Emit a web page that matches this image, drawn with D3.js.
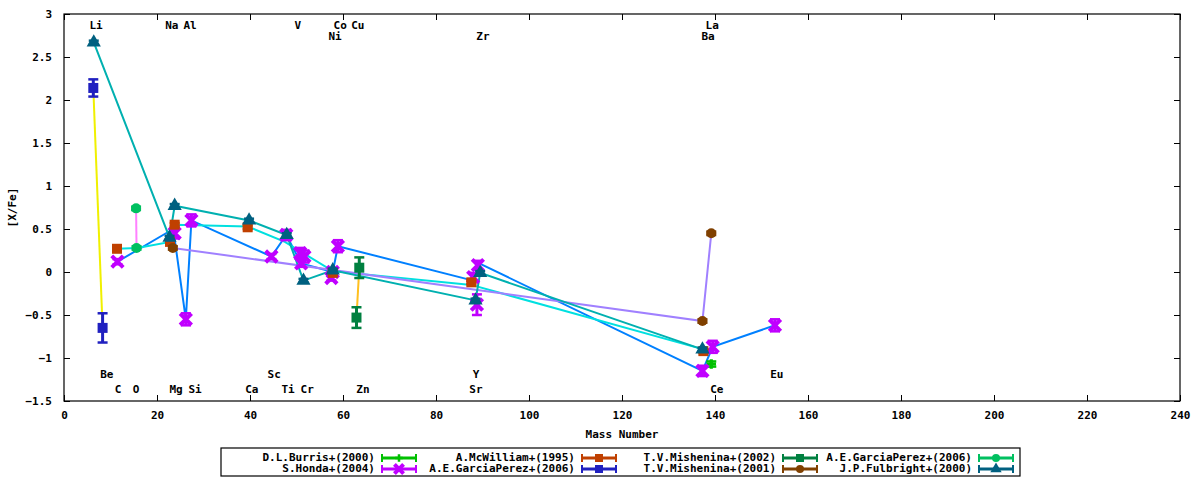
<!DOCTYPE html>
<html lang="en">
<head>
<meta charset="UTF-8">
<title>[X/Fe] vs Mass Number</title>
<script src="https://d3js.org/d3.v7.min.js"></script>
<style>
  body { margin: 0; background: #fff; }
  text { font-family: "DejaVu Sans Mono", monospace; font-weight: bold; font-size: 11px; }
</style>
</head>
<body>
<script>
// data: [mass number, [X/Fe], error]
const burris = [[139.2, -1.07, 0.03]];
const honda = [[11.5, 0.12, 0.03], [23.8, 0.45, 0.06], [26.2, -0.55, 0.07], [27.4, 0.6, 0.07],
  [44.6, 0.18, 0.03], [47.8, 0.43, 0.06], [50.8, 0.22, 0.06], [51.7, 0.18, 0.07], [51.0, 0.1, 0.04],
  [57.8, 0.0, 0.03], [57.5, -0.07, 0.03], [58.9, 0.3, 0.07], [88.0, -0.06, 0.05], [89.0, 0.08, 0.05],
  [88.8, -0.38, 0.12], [137.3, -1.15, 0.06], [139.5, -0.87, 0.07], [152.9, -0.62, 0.07]];
const honda_line = [[11.5, 0.12], [23.5, 0.5], [26.2, -0.55], [27.4, 0.6], [44.6, 0.18], [47.8, 0.43],
  [51.0, 0.1], [57.8, 0.0], [58.9, 0.3], [88.0, -0.1], [89.3, 0.1], [137.3, -1.15], [139.5, -0.87], [152.9, -0.62]];
const mcwilliam = [[11.4, 0.27, 0.02], [22.8, 0.35, 0.02], [23.8, 0.55, 0.02], [39.5, 0.52, 0.02],
  [57.8, -0.01, 0.02], [87.6, -0.12, 0.02], [137.5, -0.92, 0.02]];
const mcwilliam_line = [[11.4, 0.27], [15.8, 0.28], [22.8, 0.35], [23.8, 0.55], [39.5, 0.53],
  [47.5, 0.35], [57.8, 0.01], [87.6, -0.15], [137.5, -0.9]];
const mish2002 = [[62.9, -0.53, 0.12], [63.5, 0.05, 0.12]];
const garciaO = [[15.6, 0.28, 0.02], [15.5, 0.74, 0.02]];
const garciaLi = [[6.3, 2.14, 0.1], [8.3, -0.65, 0.17]];
const mish2001 = [[23.4, 0.28, 0.02], [137.3, -0.57, 0.02], [139.2, 0.45, 0.02]];
const fulbright = [[6.4, 2.67, 0.02], [22.7, 0.4, 0.02], [23.8, 0.77, 0.02], [39.8, 0.6, 0.02],
  [47.9, 0.43, 0.02], [51.5, -0.1, 0.02], [57.8, 0.02, 0.02], [88.5, -0.33, 0.02], [89.5, -0.01, 0.02],
  [137.3, -0.9, 0.02]];
const fulbright_line = [[6.4, 2.67], [22.7, 0.4], [23.8, 0.77], [39.8, 0.6], [47.9, 0.43], [51.5, -0.1],
  [57.8, 0.02], [88.5, -0.33], [89.5, -0.01], [137.3, -0.9]];

const labelsTop = [["Li", 6.9, 2.86], ["Na", 23.2, 2.86], ["Al", 27.1, 2.86], ["V", 50.3, 2.86],
  ["Co", 59.4, 2.86], ["Cu", 63.2, 2.86], ["Ni", 58.3, 2.73], ["Zr", 90.1, 2.73], ["La", 139.4, 2.86], ["Ba", 138.5, 2.73]];
const labelsBottom = [["Be", 9.2, -1.2], ["C", 11.6, -1.37], ["O", 15.5, -1.37], ["Mg", 24.1, -1.37],
  ["Si", 28.2, -1.37], ["Ca", 40.4, -1.37], ["Sc", 45.2, -1.2], ["Ti", 48.2, -1.37], ["Cr", 52.3, -1.37],
  ["Zn", 64.3, -1.37], ["Y", 88.6, -1.2], ["Sr", 88.6, -1.37], ["Ce", 140.4, -1.37], ["Eu", 153.3, -1.2]];

const xTicks = d3.range(0, 241, 20);
const yTicks = [-1.5, -1, -0.5, 0, 0.5, 1, 1.5, 2, 2.5, 3];

const series = [
  { name: "D.L.Burris+(2000)", color: "#00c000", shape: "plus", data: burris },
  { name: "S.Honda+(2004)", color: "#c000ff", shape: "cross", data: honda, line: honda_line, lineColor: "#0080ff" },
  { name: "A.McWilliam+(1995)", color: "#c04000", shape: "square", data: mcwilliam, line: mcwilliam_line, lineColor: "#00e0e0" },
  { name: "A.E.GarciaPerez+(2006)", color: "#2020c0", shape: "square", data: garciaLi, line: garciaLi, lineColor: "#f0f000" },
  { name: "T.V.Mishenina+(2002)", color: "#008040", shape: "square", data: mish2002, line: mish2002, lineColor: "#ffc020" },
  { name: "T.V.Mishenina+(2001)", color: "#804000", shape: "circle", data: mish2001, line: mish2001, lineColor: "#a080ff" },
  { name: "A.E.GarciaPerez+(2006)", color: "#00c060", shape: "circle", data: garciaO, line: garciaO, lineColor: "#ff80ff" },
  { name: "J.P.Fulbright+(2000)", color: "#006080", shape: "triangle", data: fulbright, line: fulbright_line, lineColor: "#00b0b0" }
];
// legend order (column-major as in reference)
const legendOrder = [0, 1, 2, 3, 4, 5, 6, 7];

const width = 1200, height = 480;
const margin = { left: 64, right: 20, top: 14, bottom: 79 };

const x = d3.scaleLinear().domain([0, 240]).range([margin.left, width - margin.right]);
const y = d3.scaleLinear().domain([-1.5, 3]).range([height - margin.bottom, margin.top]);

const svg = d3.select("body").append("svg")
    .attr("width", width)
    .attr("height", height);

const gx = svg.append("g").attr("transform", `translate(0,${y(-1.5)})`)
    .call(d3.axisBottom(x).tickValues(xTicks).tickSize(-6).tickPadding(10).tickFormat(d3.format("d")));
const gxt = svg.append("g").attr("transform", `translate(0,${y(3)})`)
    .call(d3.axisTop(x).tickValues(xTicks).tickSize(-6).tickFormat(""));
const gy = svg.append("g").attr("transform", `translate(${x(0)},0)`)
    .call(d3.axisLeft(y).tickValues(yTicks).tickSize(-6).tickPadding(12).tickFormat(d => d3.format("")(d)));
const gyr = svg.append("g").attr("transform", `translate(${x(240)},0)`)
    .call(d3.axisRight(y).tickValues(yTicks).tickSize(-6).tickFormat(""));
for (const g of [gx, gxt, gy, gyr]) {
  g.select(".domain").remove();
  g.selectAll("line").attr("stroke", "#000");
  g.selectAll("text").attr("fill", "#000").style("font-size", "11px");
}
svg.append("rect")
    .attr("x", x(0)).attr("y", y(3))
    .attr("width", x(240) - x(0)).attr("height", y(-1.5) - y(3))
    .attr("fill", "none").attr("stroke", "#000").attr("stroke-width", 1.2);

svg.append("text").attr("x", (x(0) + x(240)) / 2).attr("y", 438)
    .attr("text-anchor", "middle").text("Mass Number");
svg.append("text").attr("transform", `translate(16,${y(0.75)}) rotate(-90)`)
    .attr("text-anchor", "middle").text("[X/Fe]");

const line = d3.line().x(d => x(d[0])).y(d => y(d[1]));

// connecting lines
for (const s of series) {
  if (!s.line) continue;
  svg.append("path").attr("d", line(s.line))
      .attr("fill", "none").attr("stroke", s.lineColor).attr("stroke-width", 2);
}

function marker(g, shape, color, size) {
  if (shape === "square") {
    g.append("rect").attr("x", -size).attr("y", -size).attr("width", 2 * size).attr("height", 2 * size).attr("fill", color);
  } else if (shape === "circle") {
    g.append("circle").attr("r", size).attr("fill", color);
  } else if (shape === "triangle") {
    g.append("path").attr("d", d3.symbol(d3.symbolTriangle, size * size * 3.5)()).attr("fill", color);
  } else if (shape === "cross") {
    g.append("path").attr("d", d3.symbol(d3.symbolX, size * size * 3.5)()).attr("stroke", color).attr("stroke-width", 4);
  } else {
    g.append("path").attr("d", d3.symbol(d3.symbolCross, size * size * 2)()).attr("fill", color);
  }
}

// error bars + markers
for (const s of series) {
  for (const d of s.data) {
    const g = svg.append("g").attr("transform", `translate(${x(d[0])},${y(d[1])})`);
    const e = y(d[1] - d[2]) - y(d[1]);
    g.append("line").attr("y1", -e).attr("y2", e).attr("stroke", s.color).attr("stroke-width", 3);
    g.append("line").attr("x1", -5).attr("x2", 5).attr("y1", -e).attr("y2", -e).attr("stroke", s.color).attr("stroke-width", 2.5);
    g.append("line").attr("x1", -5).attr("x2", 5).attr("y1", e).attr("y2", e).attr("stroke", s.color).attr("stroke-width", 2.5);
    marker(g, s.shape, s.color, 5);
  }
}

// element labels
svg.append("g").selectAll("text").data(labelsTop.concat(labelsBottom)).join("text")
    .attr("x", d => x(d[1])).attr("y", d => y(d[2]))
    .attr("text-anchor", "middle").attr("dominant-baseline", "middle")
    .text(d => d[0]);

// legend
const lg = svg.append("g");
lg.append("rect").attr("x", 221).attr("y", 448).attr("width", 799).attr("height", 28)
    .attr("fill", "#fff").attr("stroke", "#000").attr("stroke-width", 1.2);
const colEnd = [375, 575, 776, 972];
legendOrder.forEach((si, i) => {
  const s = series[si];
  const col = Math.floor(i / 2), row = i % 2;
  const ty = 458 + row * 11;
  lg.append("text").attr("x", colEnd[col]).attr("y", ty)
      .attr("text-anchor", "end").attr("dominant-baseline", "middle").text(s.name);
  const sx = colEnd[col] + 6, ex = sx + 36;
  lg.append("line").attr("x1", sx).attr("x2", ex).attr("y1", ty).attr("y2", ty).attr("stroke", s.color).attr("stroke-width", 3);
  lg.append("line").attr("x1", sx + 1).attr("x2", sx + 1).attr("y1", ty - 4).attr("y2", ty + 4).attr("stroke", s.color).attr("stroke-width", 2);
  lg.append("line").attr("x1", ex - 1).attr("x2", ex - 1).attr("y1", ty - 4).attr("y2", ty + 4).attr("stroke", s.color).attr("stroke-width", 2);
  const g = lg.append("g").attr("transform", `translate(${(sx + ex) / 2},${ty})`);
  marker(g, s.shape, s.color, 4);
});
</script>
</body>
</html>
